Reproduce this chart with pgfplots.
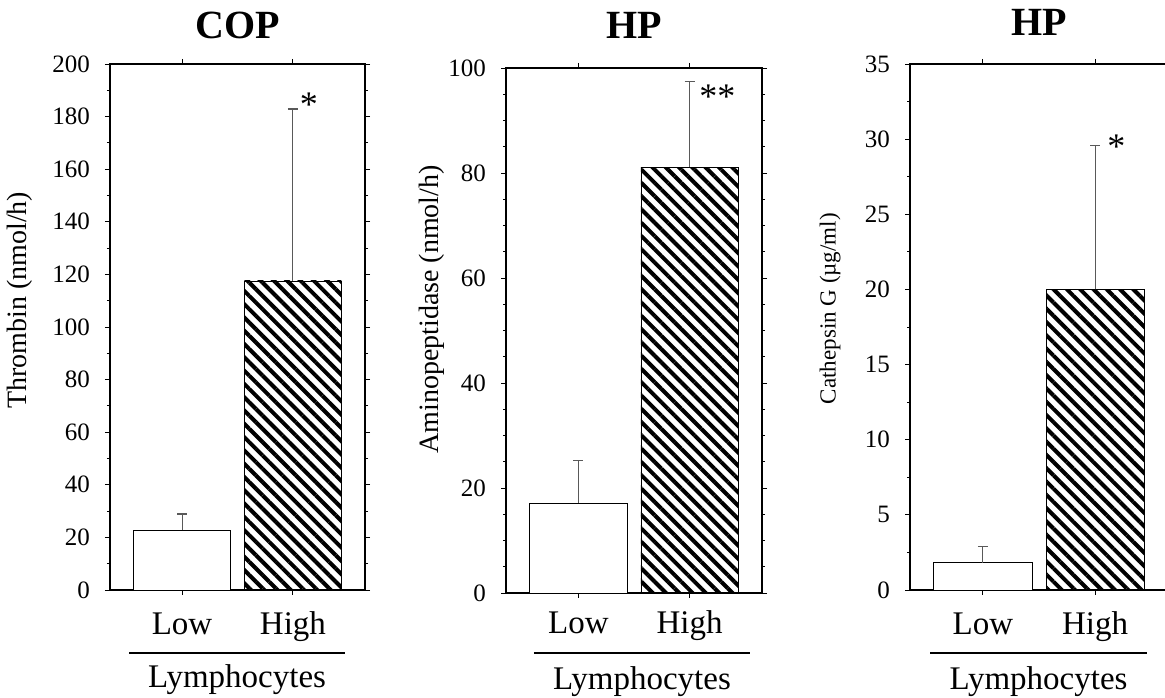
\documentclass[border=0pt]{standalone}
\usepackage{fontspec}
\setmainfont{Liberation Serif}
\usepackage{pgfplots}
\pgfplotsset{compat=1.18}
\usetikzlibrary{patterns.meta}

\tikzset{
  hatch/.style={pattern={Lines[angle=-45,distance=9.4pt,line width=4pt]}},
  signif/.style={anchor=base, font=\fontsize{36}{40}\selectfont, inner sep=0pt},
}

\pgfplotsset{
  panel/.style={
    scale only axis,
    xmin=-0.65, xmax=1.65, ymin=0, enlargelimits=false, clip=false,
    xtick={0,1}, xticklabels={Low,High},
    axis line style={line width=1.1pt},
    tick style={black, line width=0.9pt},
    major tick length=5pt, minor tick length=3pt,
    tick align=outside, tick pos=both,
    /pgf/number format/assume math mode=true,
    yticklabel style={font=\fontsize{25}{30}\selectfont, anchor=east, inner sep=0pt, xshift=-15pt},
    xticklabel style={font=\fontsize{33}{36}\selectfont, anchor=base, inner sep=0pt},
    title style={font=\fontsize{40}{44}\selectfont\bfseries, at={(axis description cs:0.5,1)}, anchor=base},
    ylabel style={font=\fontsize{28}{32}\selectfont, anchor=center},
  },
  errs/.style={error bars/.cd, y dir=plus, y explicit,
    error bar style={black!65, line width=1pt},
    error mark options={black!65, rotate=90, mark size=5pt, line width=1.2pt}},
  lowbar/.style={ybar, bar width=0.875, bar shift=0, draw=black, line width=0.9pt, fill=white, errs},
  highbar/.style={ybar, bar width=0.875, bar shift=0, draw=black, line width=0.9pt, hatch, errs},
}
\newcommand{\lympho}[4]{%
  \draw[line width=1.2pt] ([yshift=-#3pt]axis description cs:#1,0) -- ([yshift=-#3pt]axis description cs:#2,0);
  \node[anchor=base, inner sep=0pt, font=\fontsize{33}{36}\selectfont]
    at ([yshift=-#4pt]axis description cs:{(#1+#2)/2},0) {Lymphocytes};}

\begin{document}
\begin{tikzpicture}
\useasboundingbox (0pt,0pt) rectangle (1165pt,698pt);

% Thrombin
\begin{axis}[panel, anchor=south west, at={(110pt,108pt)}, width=255pt, height=526pt,
  ymax=200, ytick={0,20,...,200}, minor y tick num=1,
  title={COP}, title style={yshift=19pt},
  ylabel={Thrombin (nmol/h)}, ylabel style={at={(axis description cs:-0.353,0.551)}},
  xticklabel style={yshift=-40pt}]
\addplot[lowbar] coordinates {(0,22.8) +- (0,6.1)};
\addplot[highbar] coordinates {(1,117.5) +- (0,65.4)};
\node[signif] at (axis cs:1.144,179.9) {*};
\lympho{0.075}{0.922}{63}{98}
\end{axis}

% Aminopeptidase
\begin{axis}[panel, anchor=south west, at={(506pt,105pt)}, width=256pt, height=525pt,
  ymax=100, ytick={0,20,...,100}, minor y tick num=3,
  title={HP}, title style={yshift=23pt},
  ylabel={Aminopeptidase (nmol/h)}, ylabel style={at={(axis description cs:-0.289,0.54)}},
  xticklabel style={yshift=-36pt}]
\addplot[lowbar] coordinates {(0,17.1) +- (0,8.2)};
\addplot[highbar] coordinates {(1,81.1) +- (0,16.4)};
\node[signif] at (axis cs:1.25,92.2) {**};
\lympho{0.109}{0.953}{60}{97}
\end{axis}

% Cathepsin G
\begin{axis}[panel, anchor=south west, at={(910pt,108pt)}, width=258pt, height=526pt,
  ymax=35, ytick={0,5,...,35}, minor y tick num=1,
  title={HP}, title style={yshift=22pt},
  ylabel={Cathepsin G (µg/ml)}, ylabel style={font=\fontsize{23}{27}\selectfont, at={(axis description cs:-0.31,0.535)}},
  xticklabel style={yshift=-40pt}]
\addplot[lowbar] coordinates {(0,1.8) +- (0,1.07)};
\addplot[highbar] coordinates {(1,20) +- (0,9.6)};
\node[signif] at (axis cs:1.19,28.7) {*};
\lympho{0.078}{0.919}{63}{100}
\end{axis}
\end{tikzpicture}
\end{document}
